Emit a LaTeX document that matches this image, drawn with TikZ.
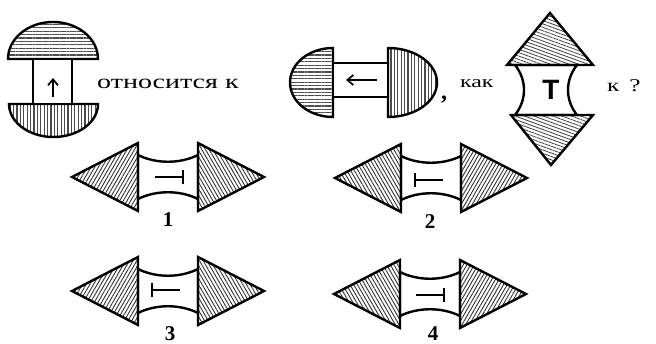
\documentclass[tikz,border=0pt]{standalone}
\usepackage{fontspec}
\setmainfont{Liberation Serif}
\setsansfont{Liberation Sans}
\newfontfamily\widefont[FakeStretch=1.4]{Liberation Serif}
\usetikzlibrary{patterns.meta,arrows.meta}
\begin{document}
\begin{tikzpicture}[x=1pt,y=-1pt,
  outline/.style={draw=black, line width=2.4pt, line join=miter},
  hhatch/.style={pattern={Lines[angle=0,distance=3.4pt,line width=1.1pt]}, pattern color=black!70},
  vhatch/.style={pattern={Lines[angle=90,distance=3.4pt,line width=1.1pt]}, pattern color=black!70},
  thatch/.style={pattern={Lines[angle=-20,distance=3.2pt,line width=0.8pt]}, pattern color=black!75},
  nehatch/.style={pattern={Lines[angle=60,distance=3.2pt,line width=0.9pt]}, pattern color=black!80},
  nwhatch/.style={pattern={Lines[angle=120,distance=3.2pt,line width=0.9pt]}, pattern color=black!80},
  sym/.style={line width=2.2pt},
  arr/.style={line width=1.9pt, -{Straight Barb[length=6pt,width=10pt,line width=1.7pt]}},
  txt/.style={inner sep=0pt, anchor=base west},
  lbl/.style={inner sep=0pt, font=\fontsize{21}{21}\selectfont\bfseries},
  pics/opt/.style args={#1/#2}{code={
    \draw[outline, fill=white] (-30,-22) .. controls (-12,-13) and (12,-13) .. (30,-22)
       -- (30,22) .. controls (12,13) and (-12,13) .. (-30,22) -- cycle;
    \draw[outline, #1] (-30,-34) -- (-30,34) -- (-96,0) -- cycle;
    \draw[outline, #2] (30,-34) -- (30,34) -- (96,0) -- cycle;
  }},
  pics/tackright/.style={code={
    \draw[sym] (-13,0) -- (15,0);
    \draw[sym] (15,-7) -- (15,7);
  }},
  pics/tackleft/.style={code={
    \draw[sym] (-15,0) -- (13,0);
    \draw[sym] (-15,-7) -- (-15,7);
  }}
]
\fill[white] (0,0) rectangle (656,344);
\useasboundingbox (0,0) rectangle (656,344);

% figure 1: vertical mushroom
\draw[outline, hhatch] (8,59) arc[start angle=180, end angle=360, x radius=45, y radius=37] -- cycle;
\draw[outline, vhatch] (9,104) arc[start angle=180, end angle=0, x radius=44.5, y radius=33] -- cycle;
\draw[outline, fill=white] (33,59) rectangle (72,104);
\coordinate (a1s) at (53,97);
\coordinate (a1e) at (53,78);
\draw[arr] (a1s) -- (a1e);

\node[txt, font=\fontsize{20}{20}\widefont] (t1) at (97,89) {относится к};

% figure 2: horizontal mushroom
\draw[outline, hhatch] (333,48) arc[start angle=270, end angle=90, x radius=43, y radius=34.5] -- cycle;
\draw[outline, vhatch] (388,48) arc[start angle=-90, end angle=90, x radius=49, y radius=34.5] -- cycle;
\draw[outline, fill=white] (333,63) rectangle (388,97);
\coordinate (a2s) at (377,80);
\coordinate (a2e) at (346,80);
\draw[arr] (a2s) -- (a2e);

\node[txt, font=\fontsize{24}{24}\bfseries] (comma) at (441,100) {,};
\node[txt, font=\fontsize{17}{17}\widefont] (t2) at (460,88) {как};

% figure 3: vertical T figure
\draw[outline, fill=white] (515,65) .. controls (527,80) and (527,100) .. (515,115)
   -- (577,115) .. controls (565,100) and (565,80) .. (577,65) -- cycle;
\draw[outline, thatch] (550,13) -- (593,65) -- (507,65) -- cycle;
\draw[outline, thatch] (511,115) -- (593,115) -- (551,165) -- cycle;
\node[inner sep=0pt, font=\fontsize{28}{28}\sffamily\bfseries] (tT) at (551,90) {T};

\node[txt, font=\fontsize{18}{18}\widefont] (t3) at (607,92) {к\hspace{10pt}?};

% answer options
\pic at (168,177) {opt={nehatch/nwhatch}};
\pic at (168,177) {tackright};
\node[lbl] (l1) at (168,220) {1};

\pic at (431,178) {opt={nwhatch/nehatch}};
\pic at (430,180) {tackleft};
\node[lbl] (l2) at (430,222) {2};

\pic at (168,291) {opt={nehatch/nwhatch}};
\pic at (167,290) {tackleft};
\node[lbl] (l3) at (170,334) {3};

\pic at (430,294) {opt={nwhatch/nehatch}};
\pic at (429,295) {tackright};
\node[lbl] (l4) at (433,334) {4};
\end{tikzpicture}
\end{document}
